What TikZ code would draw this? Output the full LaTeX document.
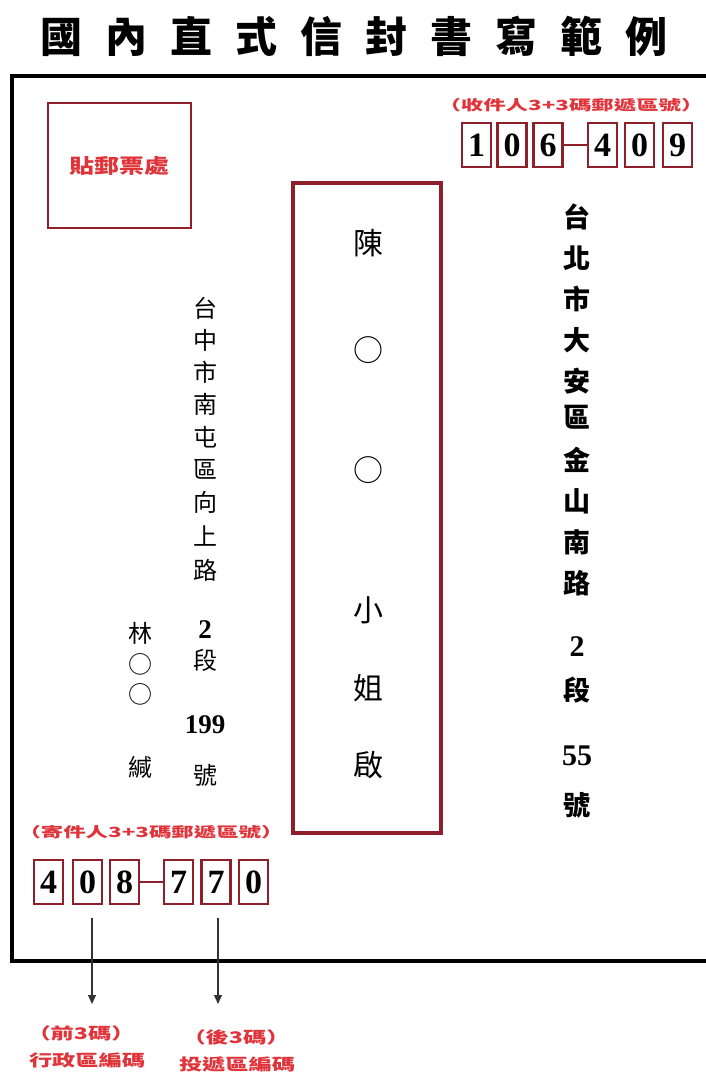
\documentclass[tikz,border=0pt]{standalone}
\usepackage{fontspec}
\usetikzlibrary{arrows.meta}
\newfontfamily\cjk{Noto Sans CJK TC}
\newfontfamily\dig{Liberation Serif}
\definecolor{boxred}{HTML}{8E1F2B}
\definecolor{labred}{HTML}{E0343A}
\begin{document}
\begin{tikzpicture}[x=1pt,y=-1pt,
  env/.style={line width=4pt, draw=black},
  zipbox/.style={draw=boxred, line width=2.4pt, minimum width=29pt, minimum height=44pt, inner sep=0pt, font=\dig\bfseries\fontsize{34}{34}\selectfont},
  toplab/.style={text=labred, inner sep=0pt, font=\cjk\bfseries\fontsize{14}{14}\selectfont},
  botlab/.style={text=labred, inner sep=0pt, font=\cjk\bfseries\fontsize{16}{16}\selectfont},
  titlech/.style={inner sep=0pt, font=\cjk\bfseries\fontsize{42}{42}\selectfont},
  namech/.style={inner sep=0pt, font=\cjk\fontsize{30}{30}\selectfont},
  raddr/.style={inner sep=0pt, font=\cjk\bfseries\fontsize{27}{27}\selectfont},
  rdig/.style={inner sep=0pt, font=\dig\bfseries\fontsize{30}{30}\selectfont},
  saddr/.style={inner sep=0pt, font=\cjk\fontsize{24}{24}\selectfont},
  sdig/.style={inner sep=0pt, font=\dig\bfseries\fontsize{27}{27}\selectfont},
  arr/.style={draw=black!80, line width=1.1pt, -{Triangle[width=8pt,length=9pt]}}
]
\useasboundingbox (0,0) rectangle (706,1073);
\fill[white] (0,0) rectangle (706,1073);

% title
\node[titlech] (title) at (354,36) {國\hspace{23pt}內\hspace{23pt}直\hspace{23pt}式\hspace{23pt}信\hspace{23pt}封\hspace{23pt}書\hspace{23pt}寫\hspace{23pt}範\hspace{23pt}例};

% envelope
\draw[env] (708,76) -- (12,76) -- (12,961) -- (708,961);

% stamp
\node[draw=boxred, line width=2.2pt, minimum width=143pt, minimum height=125pt, inner sep=0pt,
      text=labred, font=\cjk\bfseries\fontsize{20}{20}\selectfont] (stamp) at (119.5,165.5) {\scalebox{1.25}[1]{貼郵票處}};

% recipient zip
\node[toplab] (rlab) at (571,105) {\scalebox{1.6}[1]{（收件人3+3碼郵遞區號）}};
\node[zipbox] (r1) at (476.5,145) {1};
\node[zipbox] (r2) at (512,145) {0};
\node[zipbox] (r3) at (548,145) {6};
\node[zipbox] (r4) at (602.5,145) {4};
\node[zipbox] (r5) at (639.5,145) {0};
\node[zipbox] (r6) at (677.5,145) {9};
\draw[draw=boxred, line width=2pt] (r3.east) -- (r4.west);

% recipient name box
\node[draw=boxred, line width=3.2pt, minimum width=148pt, minimum height=650pt, inner sep=0pt] (namebox) at (367,508) {};
\foreach \c/\y [count=\i] in {陳/243, ○/350, ○/470, 小/610, 姐/688, 啟/765}
  \node[namech] (n\i) at (368,\y) {\c};

% recipient address
\foreach \c/\y [count=\i] in {台/217, 北/258, 市/299, 大/340, 安/381, 區/417, 金/460, 山/501, 南/542, 路/583}
  \node[raddr] (ra\i) at (577,\y) {\c};
\node[rdig] (ra11) at (577,647) {2};
\node[raddr] (ra12) at (577,690) {段};
\node[rdig] (ra13) at (577,756) {55};
\node[raddr] (ra14) at (577,805) {號};

% sender address
\foreach \c/\y [count=\i] in {台/308, 中/340, 市/372, 南/404, 屯/437, 區/469, 向/502, 上/536, 路/570}
  \node[saddr] (sa\i) at (205,\y) {\c};
\node[sdig] (sa10) at (205,630) {2};
\node[saddr] (sa11) at (205,660) {段};
\node[sdig] (sa12) at (205,725) {199};
\node[saddr] (sa13) at (205,775) {號};

% sender name
\foreach \c/\y [count=\i] in {林/633, ○/664, ○/694, 緘/768}
  \node[saddr] (sn\i) at (140,\y) {\c};

% sender zip
\node[toplab] (slab) at (151,832) {\scalebox{1.6}[1]{（寄件人3+3碼郵遞區號）}};
\node[zipbox] (s1) at (48.5,882) {4};
\node[zipbox] (s2) at (87.5,882) {0};
\node[zipbox] (s3) at (124.5,882) {8};
\node[zipbox] (s4) at (178.5,882) {7};
\node[zipbox] (s5) at (216,882) {7};
\node[zipbox] (s6) at (253.5,882) {0};
\draw[draw=boxred, line width=2pt] (s3.east) -- (s4.west);

% arrows and labels
\coordinate (a1s) at (92,918);
\coordinate (a1e) at (92,1004);
\coordinate (a2s) at (218,918);
\coordinate (a2e) at (218,1004);
\draw[arr] (a1s) -- (a1e);
\draw[arr] (a2s) -- (a2e);
\node[botlab] (l1a) at (81,1033) {\scalebox{1.45}[1]{（前3碼）}};
\node[botlab] (l1b) at (87,1060) {\scalebox{1.45}[1]{行政區編碼}};
\node[botlab] (l2a) at (236,1037) {\scalebox{1.45}[1]{（後3碼）}};
\node[botlab] (l2b) at (237,1064) {\scalebox{1.45}[1]{投遞區編碼}};
\end{tikzpicture}
\end{document}
